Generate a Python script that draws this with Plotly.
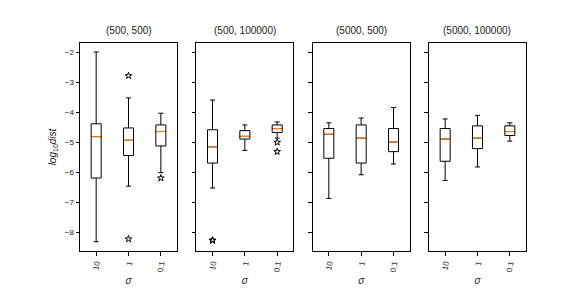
import plotly.graph_objects as go
from plotly.subplots import make_subplots

panels = ["(500, 500)", "(500, 100000)", "(5000, 500)", "(5000, 100000)"]
sigmas = ["10", "1", "0.1"]

# per panel, per sigma: [lower whisker, Q1, median, Q3, upper whisker]
stats = [
    [[-8.32, -6.20, -4.82, -4.39, -2.00],
     [-6.47, -5.45, -4.94, -4.53, -3.53],
     [-6.02, -5.13, -4.65, -4.43, -4.04]],
    [[-6.53, -5.70, -5.16, -4.59, -3.60],
     [-5.28, -4.90, -4.81, -4.62, -4.43],
     [-4.87, -4.68, -4.55, -4.43, -4.33]],
    [[-6.88, -5.54, -4.74, -4.55, -4.36],
     [-6.09, -5.70, -4.87, -4.43, -4.20],
     [-5.73, -5.32, -5.00, -4.55, -3.85]],
    [[-6.28, -5.64, -4.90, -4.55, -4.23],
     [-5.83, -5.22, -4.87, -4.46, -4.11],
     [-4.97, -4.78, -4.65, -4.46, -4.36]],
]
outliers = [
    [[], [-2.79, -8.23], [-6.20]],
    [[-8.28, -8.27], [], [-5.01, -5.32]],
    [[], [], []],
    [[], [], []],
]

box_w = 0.31

fig = make_subplots(rows=1, cols=4, shared_yaxes=True,
                    horizontal_spacing=0.0433, subplot_titles=panels)

for p in range(4):
    for i, s in enumerate(stats[p]):
        lo, q1, med, q3, hi = s
        fig.add_trace(go.Box(
            x=[i], q1=[q1], median=[med], q3=[q3],
            lowerfence=[lo], upperfence=[hi],
            width=box_w, whiskerwidth=0.5,
            line=dict(color="black", width=1),
            fillcolor="rgba(255,255,255,0)",
            boxpoints=False, showlegend=False, hoverinfo="skip",
        ), row=1, col=p + 1)
        fig.add_trace(go.Scatter(
            x=[i - box_w / 2 + 0.02, i + box_w / 2 - 0.02], y=[med, med],
            mode="lines", line=dict(color="#ff7f0e", width=1.2),
            showlegend=False, hoverinfo="skip",
        ), row=1, col=p + 1)
        if outliers[p][i]:
            fig.add_trace(go.Scatter(
                x=[i] * len(outliers[p][i]), y=outliers[p][i],
                mode="markers",
                marker=dict(symbol="star-open", size=5,
                            color="black", line=dict(width=1, color="black")),
                showlegend=False, hoverinfo="skip",
            ), row=1, col=p + 1)

    fig.update_xaxes(
        range=[-0.5, 2.5], tickvals=[0, 1, 2], ticktext=sigmas,
        tickangle=-80, ticks="outside", ticklen=3.5, tickcolor="black",
        showline=True, linecolor="black", linewidth=1, mirror=True,
        showgrid=False, zeroline=False,
        tickfont=dict(size=8, color="#333"),
        title=dict(text="<i>σ</i>", font=dict(size=10, color="#222"), standoff=4),
        row=1, col=p + 1)
    fig.update_yaxes(
        range=[-8.63, -1.70], tickvals=[-8, -7, -6, -5, -4, -3, -2],
        ticks="outside", ticklen=3.5, tickcolor="black",
        showline=True, linecolor="black", linewidth=1, mirror=True,
        showgrid=False, zeroline=False,
        tickfont=dict(size=8, color="#222"),
        row=1, col=p + 1)

fig.update_yaxes(title=dict(text="<i>log</i><sub>10</sub><i>dist</i>",
                            font=dict(size=10, color="#222"), standoff=6),
                 row=1, col=1)

for a in fig.layout.annotations:
    a.font = dict(size=10, color="#222")
    a.yshift = 5

fig.update_layout(
    width=576, height=288,
    margin=dict(l=72, r=58, t=35, b=36),
    paper_bgcolor="white", plot_bgcolor="white",
    font=dict(family="Liberation Sans, Arial, sans-serif", color="#222"),
)

fig.write_html("out.html")
